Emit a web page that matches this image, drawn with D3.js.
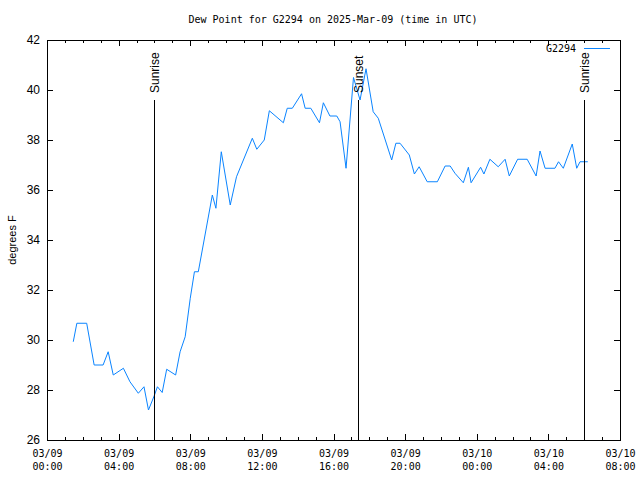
<!DOCTYPE html>
<html><head><meta charset="utf-8">
<script src="https://cdn.jsdelivr.net/npm/d3@7"></script>
<style>body{margin:0;background:#fff}</style>
</head><body>
<svg id="chart" width="640" height="480"></svg>
<script>
const titleText = "Dew Point for G2294 on 2025-Mar-09 (time in UTC)";
const seriesName = "G2294";
const yLabel = "degrees F";
const xDomain = ["2025-03-09T00:00Z", "2025-03-10T08:00Z"];
const yDomain = [26, 42];
const yTicks = [26, 28, 30, 32, 34, 36, 38, 40, 42];
const times = [
 "2025-03-09T01:28Z","2025-03-09T01:40Z","2025-03-09T02:13Z","2025-03-09T02:38Z","2025-03-09T03:08Z",
 "2025-03-09T03:25Z","2025-03-09T03:42Z","2025-03-09T04:16Z","2025-03-09T04:38Z","2025-03-09T05:06Z",
 "2025-03-09T05:25Z","2025-03-09T05:40Z","2025-03-09T05:59Z","2025-03-09T06:10Z","2025-03-09T06:26Z",
 "2025-03-09T06:41Z","2025-03-09T07:11Z","2025-03-09T07:26Z","2025-03-09T07:43Z","2025-03-09T08:00Z",
 "2025-03-09T08:14Z","2025-03-09T08:27Z","2025-03-09T09:14Z","2025-03-09T09:26Z","2025-03-09T09:44Z",
 "2025-03-09T10:14Z","2025-03-09T10:35Z","2025-03-09T11:28Z","2025-03-09T11:43Z","2025-03-09T12:08Z",
 "2025-03-09T12:25Z","2025-03-09T13:12Z","2025-03-09T13:25Z","2025-03-09T13:42Z","2025-03-09T14:13Z",
 "2025-03-09T14:25Z","2025-03-09T14:44Z","2025-03-09T15:13Z","2025-03-09T15:26Z","2025-03-09T15:48Z",
 "2025-03-09T16:11Z","2025-03-09T16:22Z","2025-03-09T16:42Z","2025-03-09T17:07Z","2025-03-09T17:29Z",
 "2025-03-09T17:49Z","2025-03-09T18:13Z","2025-03-09T18:30Z","2025-03-09T19:15Z","2025-03-09T19:29Z",
 "2025-03-09T19:43Z","2025-03-09T20:14Z","2025-03-09T20:31Z","2025-03-09T20:47Z","2025-03-09T21:14Z",
 "2025-03-09T21:48Z","2025-03-09T22:14Z","2025-03-09T22:31Z","2025-03-09T22:47Z","2025-03-09T23:15Z",
 "2025-03-09T23:32Z","2025-03-09T23:41Z","2025-03-10T00:13Z","2025-03-10T00:24Z","2025-03-10T00:44Z",
 "2025-03-10T01:12Z","2025-03-10T01:35Z","2025-03-10T01:49Z","2025-03-10T02:17Z","2025-03-10T02:49Z",
 "2025-03-10T03:19Z","2025-03-10T03:32Z","2025-03-10T03:49Z","2025-03-10T04:22Z","2025-03-10T04:34Z",
 "2025-03-10T04:50Z","2025-03-10T05:20Z","2025-03-10T05:35Z","2025-03-10T05:46Z","2025-03-10T06:12Z"
];
const dewPoint = [
 29.93, 30.67, 30.67, 29.0, 29.0,
 29.53, 28.6, 28.87, 28.33, 27.87,
 28.13, 27.2, 27.76, 28.13, 27.9,
 28.83, 28.6, 29.53, 30.13, 31.67,
 32.73, 32.73, 35.8, 35.27, 37.53,
 35.4, 36.53, 38.07, 37.63, 38.0,
 39.17, 38.69, 39.27, 39.27, 39.85,
 39.27, 39.27, 38.69, 39.49, 38.96,
 38.96, 38.73, 36.87, 40.5, 39.6,
 40.85, 39.13, 38.87, 37.2, 37.87,
 37.87, 37.4, 36.64, 36.93, 36.33,
 36.33, 36.96, 36.96, 36.67, 36.29,
 36.91, 36.29, 36.91, 36.64, 37.23,
 36.93, 37.23, 36.56, 37.23, 37.23,
 36.56, 37.56, 36.87, 36.87, 37.13,
 36.87, 37.84, 36.87, 37.13, 37.13
];
const eventTimes = ["2025-03-09T06:00Z", "2025-03-09T17:22Z", "2025-03-10T06:00Z"];
const eventLabels = ["Sunrise", "Sunset", "Sunrise"];

const L = 47, R = 620, T = 40, B = 440;
const svg = d3.select("#chart");
const x = d3.scaleUtc().domain(xDomain.map(d => new Date(d))).range([L, R]);
const y = d3.scaleLinear().domain(yDomain).range([B, T]);
const mono = "'DejaVu Sans Mono', monospace";
const sans = "'Liberation Sans', Arial, sans-serif";

function clean(g){ g.select(".domain").remove(); g.selectAll(".tick line").attr("stroke","#000").attr("shape-rendering","crispEdges"); }

// minor x ticks
svg.append("g").attr("transform",`translate(0,${B})`)
  .call(d3.axisBottom(x).ticks(d3.utcHour.every(1)).tickSize(-3).tickFormat("")).call(clean);
svg.append("g").attr("transform",`translate(0,${T})`)
  .call(d3.axisTop(x).ticks(d3.utcHour.every(1)).tickSize(-3).tickFormat("")).call(clean);
// major x ticks
const fmtA = d3.utcFormat("%m/%d"), fmtB = d3.utcFormat("%H:%M");
const bx = svg.append("g").attr("transform",`translate(0,${B})`)
  .call(d3.axisBottom(x).ticks(d3.utcHour.every(4)).tickSize(-6).tickPadding(0).tickFormat("")).call(clean);
bx.selectAll(".tick").append("text").attr("text-anchor","middle")
  .attr("font-family",mono).attr("font-size",10).attr("fill","#000")
  .each(function(d){
    const t = d3.select(this);
    t.append("tspan").attr("x",0).attr("y",17).text(fmtA(d));
    t.append("tspan").attr("x",0).attr("y",30).text(fmtB(d));
  });
svg.append("g").attr("transform",`translate(0,${T})`)
  .call(d3.axisTop(x).ticks(d3.utcHour.every(4)).tickSize(-6).tickFormat("")).call(clean);
// y ticks
svg.append("g").attr("transform",`translate(${L},0)`)
  .call(d3.axisLeft(y).tickValues(yTicks).tickSize(-6).tickPadding(7).tickFormat(d3.format("d"))).call(clean)
  .selectAll("text").attr("font-family",sans).attr("font-size",12).attr("fill","#000");
svg.append("g").attr("transform",`translate(${R},0)`)
  .call(d3.axisRight(y).tickValues(yTicks).tickSize(-6).tickFormat("")).call(clean);

// frame
svg.append("rect").attr("x",L+0.5).attr("y",T+0.5).attr("width",R-L).attr("height",B-T)
  .attr("fill","none").attr("stroke","#000").attr("stroke-width",1);

// data line
const pts = times.map((t,i)=>({t:new Date(t), v:dewPoint[i]}));
svg.append("path").datum(pts)
  .attr("fill","none").attr("stroke","#0a84ff").attr("stroke-width",1)
  .attr("d", d3.line().x(d=>x(d.t)).y(d=>y(d.v)));

// events
eventTimes.forEach((t,i)=>{
  const xx = Math.round(x(new Date(t))) + 0.5;
  svg.append("line").attr("x1",xx).attr("x2",xx).attr("y1",B).attr("y2",y(yDomain[0] + 0.85*(yDomain[1]-yDomain[0])))
    .attr("stroke","#000").attr("stroke-width",1);
  svg.append("text").attr("transform",`translate(${xx},93) rotate(-90)`)
    .attr("dy","0.35em").attr("font-family",sans).attr("font-size",12).attr("fill","#000")
    .text(eventLabels[i]);
});

// title
svg.append("text").attr("x",333).attr("y",23).attr("text-anchor","middle")
  .attr("font-family",mono).attr("font-size",10).attr("fill","#000").text(titleText);
// y label
svg.append("text").attr("transform","translate(12,240) rotate(-90)").attr("text-anchor","middle")
  .attr("dy","0.35em").attr("font-family",sans).attr("font-size",11).attr("fill","#000").text(yLabel);
// legend
svg.append("text").attr("x",576).attr("y",52).attr("text-anchor","end")
  .attr("font-family",mono).attr("font-size",10).attr("fill","#000").text(seriesName);
svg.append("line").attr("x1",584).attr("x2",610).attr("y1",48.5).attr("y2",48.5)
  .attr("stroke","#0a84ff").attr("stroke-width",1);
</script>
</body></html>
